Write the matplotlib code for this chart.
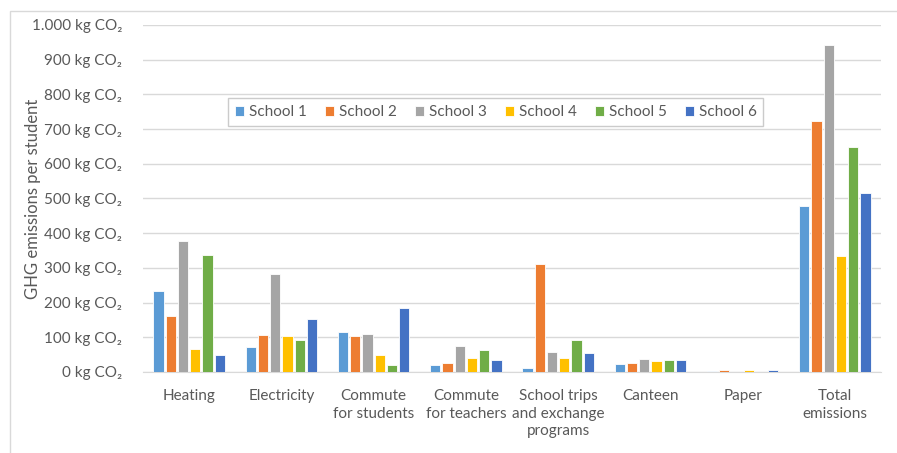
import matplotlib.pyplot as plt
import matplotlib.patches as patches
import numpy as np

# Categories and values (kg CO2 per student)
categories = ["Heating", "Electricity", "Commute\nfor students", "Commute\nfor teachers",
              "School trips\nand exchange\nprograms", "Canteen", "Paper", "Total\nemissions"]
schools = ["School 1", "School 2", "School 3", "School 4", "School 5", "School 6"]
school_1 = [233, 73, 116, 21, 12, 23, 3, 478]
school_2 = [161, 108, 105, 25, 310, 25, 5, 722]
school_3 = [378, 282, 110, 75, 57, 37, 1, 942]
school_4 = [65, 105, 50, 41, 40, 33, 5, 334]
school_5 = [336, 92, 21, 64, 92, 35, 1, 647]
school_6 = [49, 153, 184, 35, 54, 36, 6, 515]
y_ticks = [0, 100, 200, 300, 400, 500, 600, 700, 800, 900, 1000]
y_tick_labels = ["0 kg CO₂", "100 kg CO₂", "200 kg CO₂", "300 kg CO₂", "400 kg CO₂",
                 "500 kg CO₂", "600 kg CO₂", "700 kg CO₂", "800 kg CO₂", "900 kg CO₂",
                 "1.000 kg CO₂"]

series = [school_1, school_2, school_3, school_4, school_5, school_6]
colors = ["#5b9bd5", "#ed7d31", "#a5a5a5", "#ffc000", "#70ad47", "#4472c4"]
text_color = "#595959"

plt.rcParams['font.family'] = ['Lato', 'DejaVu Sans']

fig = plt.figure(figsize=(8.97, 4.53), dpi=100)
ax = fig.add_axes([143 / 897, 1 - 372 / 453, (881 - 143) / 897, (372 - 25) / 453])

# Light border around the chart area
border = patches.Rectangle((10 / 897, -0.1), 1.1, 1 - 11 / 453 + 0.1, transform=fig.transFigure,
                           fill=False, edgecolor="#d9d9d9", linewidth=1)
fig.patches.append(border)

x = np.arange(len(categories))
slot = 0.133
bar_w = 0.112
for i, (name, vals) in enumerate(zip(schools, series)):
    offset = (i - 2.5) * slot
    ax.bar(x + offset, vals, bar_w, color=colors[i], label=name,
           edgecolor="white", linewidth=0.6, zorder=3)

ax.set_xlim(-0.5, len(categories) - 0.5)
ax.set_ylim(0, 1000)
ax.set_yticks(y_ticks)
ax.set_yticklabels(y_tick_labels)
ax.set_xticks(x)
ax.set_xticklabels(categories, linespacing=1.35)
ax.tick_params(axis="both", length=0, colors=text_color, labelsize=11)
ax.tick_params(axis="y", pad=15)
ax.tick_params(axis="x", pad=12)

ax.grid(axis="y", color="#d9d9d9", linewidth=1, zorder=0)
for side in ["top", "right", "left"]:
    ax.spines[side].set_visible(False)
ax.spines["bottom"].set_color("#d9d9d9")

ax.set_ylabel("GHG emissions per student", color=text_color, fontsize=12)
ax.yaxis.set_label_coords(-0.138, 0.5)

leg = ax.legend(loc="center", bbox_to_anchor=(0.478, 0.749), ncol=6, frameon=True,
                fancybox=False, edgecolor="#bfbfbf", fontsize=11,
                handlelength=0.6, handleheight=0.6, handletextpad=0.3, columnspacing=1.2,
                borderpad=0.45, borderaxespad=0)
for t in leg.get_texts():
    t.set_color(text_color)

plt.savefig("out.png", dpi=100)
